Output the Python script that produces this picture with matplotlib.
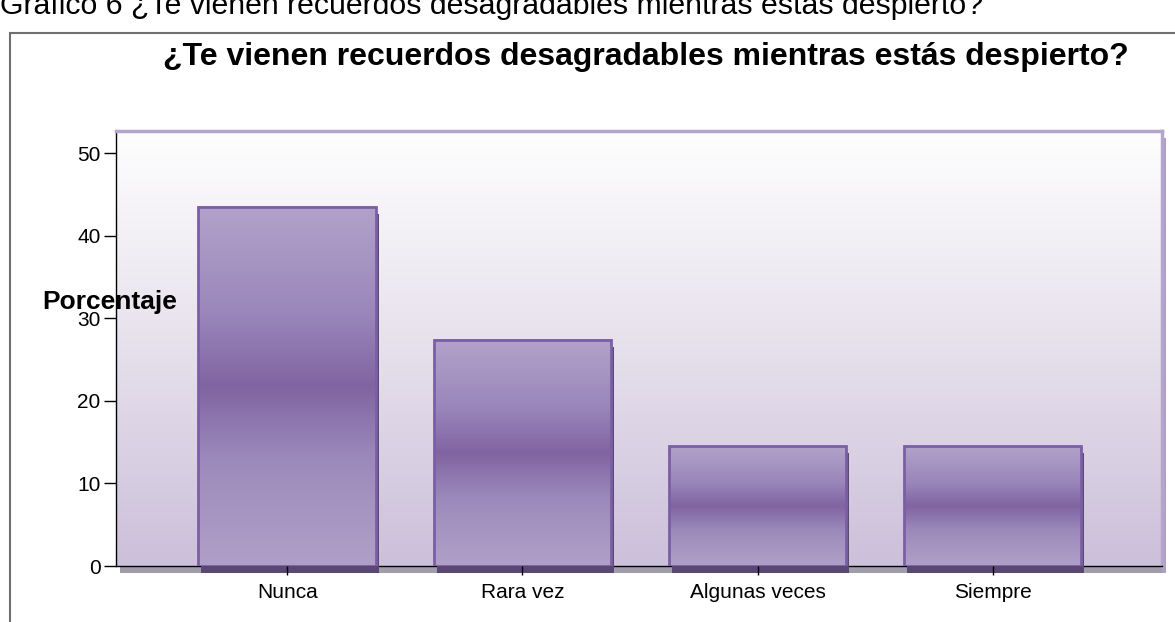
import numpy as np
import matplotlib
matplotlib.use("Agg")
import matplotlib.pyplot as plt
from matplotlib.colors import LinearSegmentedColormap
from matplotlib.patches import Rectangle
from matplotlib.lines import Line2D
import matplotlib.transforms as mtransforms

plt.rcParams['font.family'] = ['Liberation Sans', 'DejaVu Sans']

categories = ["Nunca", "Rara vez", "Algunas veces", "Siempre"]
percentages = [43.5, 27.4, 14.5, 14.5]
yticks = [0, 10, 20, 30, 40, 50]
header = "Gráfico 6 ¿Te vienen recuerdos desagradables mientras estás despierto?"
title = "¿Te vienen recuerdos desagradables mientras estás despierto?"
ylabel = "Porcentaje"

W, H = 1175, 622
fig = plt.figure(figsize=(W / 100, H / 100), dpi=100)

# outer frame
fig.add_artist(Line2D([10 / W, 10 / W], [0, 1 - 33 / H], color="#707070", lw=1.5))
fig.add_artist(Line2D([10 / W, 1.0], [1 - 33 / H, 1 - 33 / H], color="#707070", lw=1.5))

# header (clipped at top)
fig.text(0.0, 1 - 14 / H, header, fontsize=21.8, ha="left", va="baseline", color="black")

ax = fig.add_axes([116 / W, 56 / H, (1162 - 116) / W, (566 - 131) / H])
x = np.arange(len(categories))
xlim = (-0.728, 3.72)
ymax = 52.7
ax.set_xlim(*xlim)
ax.set_ylim(0, ymax)

# background gradient
bg_cmap = LinearSegmentedColormap.from_list("bg", ["#ccc0da", "#e6e0ec", "#fefefe"])
grad = np.linspace(0, 1, 256).reshape(-1, 1)
ax.imshow(grad, cmap=bg_cmap, origin="lower", aspect="auto",
          extent=[xlim[0], xlim[1], 0, ymax], zorder=0)

# plot-area shadow
ax.add_patch(Rectangle((0, 0), 1, 1, transform=mtransforms.offset_copy(ax.transAxes, fig, x=4, y=-7, units="dots"),
                       facecolor="#a29dab", edgecolor="none", zorder=-1, clip_on=False))
ax.add_patch(Rectangle((1, 0), 0.004, 1, transform=mtransforms.offset_copy(ax.transAxes, fig, x=0, y=-7, units="dots"),
                       facecolor="#ad9fc6", edgecolor="none", zorder=0.5, clip_on=False))
ax.set_facecolor("none")

bars = ax.bar(x, percentages, width=0.755, facecolor="none", edgecolor="#7b5fa5", linewidth=2, zorder=3)

bar_cmap = LinearSegmentedColormap.from_list(
    "bar", [(0.0, "#b0a0c8"), (0.3, "#9c89bb"), (0.5, "#8064a2"), (0.7, "#9a86ba"), (1.0, "#b2a2ca")])
shadow_tr = mtransforms.offset_copy(ax.transData, fig, x=3, y=-7, units="dots")
for b in bars:
    x0, w, h = b.get_x(), b.get_width(), b.get_height()
    ax.imshow(grad, cmap=bar_cmap, origin="lower", aspect="auto",
              extent=[x0, x0 + w, 0, h], zorder=2.8)
    ax.add_patch(Rectangle((x0, 0), w, h, transform=shadow_tr, facecolor="#5a4872",
                           edgecolor="none", zorder=2.7, clip_on=False))

ax.set_xlim(*xlim)
ax.set_ylim(0, ymax)

for s in ["top", "right"]:
    ax.spines[s].set_color("#b5a5cd")
    ax.spines[s].set_linewidth(2.5)
for s in ["left", "bottom"]:
    ax.spines[s].set_color("black")
    ax.spines[s].set_linewidth(1)
    ax.spines[s].set_zorder(2.5)

ax.set_xticks(x)
ax.set_xticklabels(categories, fontsize=15)
ax.set_yticks(yticks)
ax.set_yticklabels([str(v) for v in yticks], fontsize=15)
ax.tick_params(axis="y", direction="out", length=9, width=1, pad=2)
ax.tick_params(axis="x", direction="out", length=6.5, width=1, pad=6)
ax.xaxis.set_zorder(4)

fig.text(110 / W, 1 - 302 / H, ylabel, fontsize=19, fontweight="bold", ha="center", va="center")
fig.text(646 / W, 1 - 57 / H, title, fontsize=23, fontweight="bold", ha="center", va="center")

fig.savefig("out.png", dpi=100)
